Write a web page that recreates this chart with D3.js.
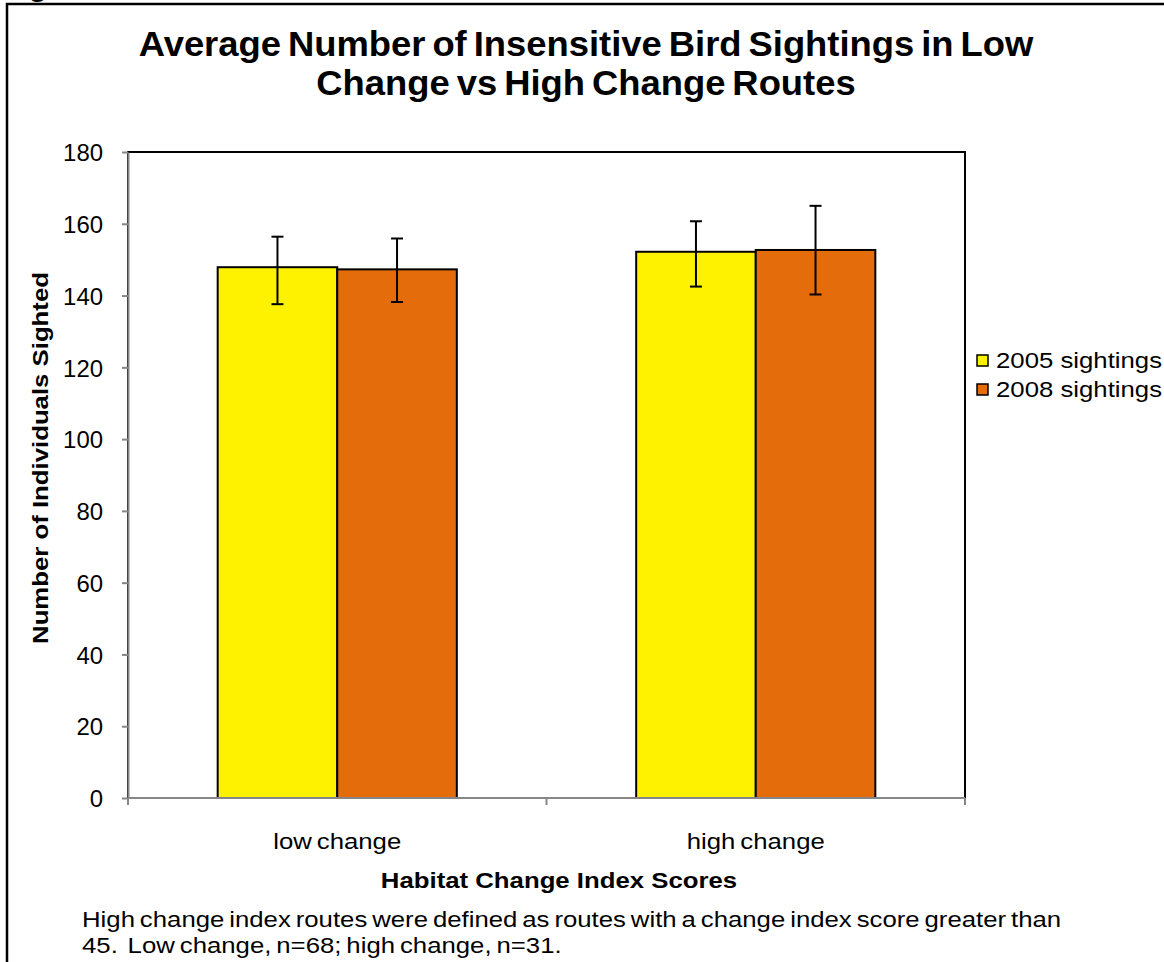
<!DOCTYPE html>
<html>
<head>
<meta charset="utf-8">
<script src="https://cdn.jsdelivr.net/npm/d3@7"></script>
<style>
  html, body { margin: 0; padding: 0; background: #fff; }
  svg { display: block; font-family: "Liberation Sans", Arial, sans-serif; }
</style>
</head>
<body>
<svg id="chart" width="1164" height="962"></svg>
<script>
// Category groups on the x axis
const categories = ["low change", "high change"];
// Series names and bar fill colours
const seriesNames = ["2005 sightings", "2008 sightings"];
const seriesColors = ["#FFF200", "#E46C0A"];
// Mean sightings per category, one array per series
const values2005 = [147.9, 152.2];
const values2008 = [147.3, 152.7];
// Error bar ends (low, high) per category, one array per series
const errLow2005 = [137.6, 142.5];
const errHigh2005 = [156.4, 160.7];
const errLow2008 = [138.2, 140.3];
const errHigh2008 = [155.9, 165.0];
// Y axis ticks
const yTicks = [0, 20, 40, 60, 80, 100, 120, 140, 160, 180];

const titleLines = ["Average Number of Insensitive Bird Sightings in Low", "Change vs High Change Routes"];
const yTitle = "Number of Individuals Sighted";
const xTitle = "Habitat Change Index Scores";
const noteLines = [
  "High change index routes were defined as routes with a change index score greater than",
  "45.  Low change, n=68; high change, n=31."
];

const series = [
  { name: seriesNames[0], color: seriesColors[0], values: values2005, lo: errLow2005, hi: errHigh2005 },
  { name: seriesNames[1], color: seriesColors[1], values: values2008, lo: errLow2008, hi: errHigh2008 }
];

// Text is set slightly wide, as in the original document's rendering
const BODY = 23, WIDE = 1.12;
function placeText(sel, x, y, s) {
  sel.attr("x", 0).attr("y", 0)
    .attr("transform", (d, i) => {
      const xx = typeof x === "function" ? x(d, i) : x;
      const yy = typeof y === "function" ? y(d, i) : y;
      return `translate(${xx},${yy}) scale(${s},1)`;
    });
  return sel;
}

const svg = d3.select("#chart");

// Outer frame of the figure
svg.append("rect")
  .attr("x", 7).attr("y", 4)
  .attr("width", 1200).attr("height", 1000)
  .attr("fill", "none").attr("stroke", "#000").attr("stroke-width", 2.5);

// Caption fragment above the frame
svg.append("text")
  .attr("x", 2).attr("y", -4)
  .attr("font-weight", "bold").attr("font-size", 30)
  .text("Fig");

// Plot area
const plot = { left: 128, top: 152, right: 965, bottom: 798 };

const x0 = d3.scaleBand()
  .domain(categories)
  .range([plot.left, plot.right])
  .paddingInner(0).paddingOuter(0);

// 150% gap width: the two bars take 2/(2+1.5) of each band
const groupW = x0.bandwidth() * 2 / 3.5;
const x1 = d3.scaleBand()
  .domain(seriesNames)
  .range([0, groupW])
  .padding(0);

const y = d3.scaleLinear().domain([0, 180]).range([plot.bottom, plot.top]);

// Plot border (top and right in black)
svg.append("rect")
  .attr("x", plot.left).attr("y", plot.top)
  .attr("width", plot.right - plot.left).attr("height", plot.bottom - plot.top)
  .attr("fill", "none").attr("stroke", "#000").attr("stroke-width", 2);

// Bars
const groups = svg.append("g").selectAll("g")
  .data(series)
  .join("g");

const barX = d => x0(d.c) + (x0.bandwidth() - groupW) / 2 + x1(d.s.name);

groups.selectAll("rect")
  .data(s => categories.map((c, i) => ({ c, v: s.values[i], s })))
  .join("rect")
  .attr("x", barX)
  .attr("y", d => y(d.v))
  .attr("width", x1.bandwidth())
  .attr("height", d => y(0) - y(d.v))
  .attr("fill", d => d.s.color)
  .attr("stroke", "#000").attr("stroke-width", 2);

// Error bars
const capW = 12;
groups.selectAll("g.err")
  .data(s => categories.map((c, i) => ({ c, lo: s.lo[i], hi: s.hi[i], s })))
  .join("g")
  .attr("class", "err")
  .each(function(d) {
    const cx = barX(d) + x1.bandwidth() / 2;
    const g = d3.select(this);
    g.append("line").attr("x1", cx).attr("x2", cx).attr("y1", y(d.hi)).attr("y2", y(d.lo));
    g.append("line").attr("x1", cx - capW / 2).attr("x2", cx + capW / 2).attr("y1", y(d.hi)).attr("y2", y(d.hi));
    g.append("line").attr("x1", cx - capW / 2).attr("x2", cx + capW / 2).attr("y1", y(d.lo)).attr("y2", y(d.lo));
    g.selectAll("line").attr("stroke", "#000").attr("stroke-width", 2);
  });

// Y axis
const yAxis = svg.append("g")
  .attr("transform", `translate(${plot.left},0)`)
  .call(d3.axisLeft(y).tickValues(yTicks).tickSize(6).tickSizeOuter(0));
yAxis.select(".domain").attr("stroke", "#868686").attr("stroke-width", 2);
yAxis.selectAll(".tick line").attr("stroke", "#868686").attr("stroke-width", 2);
yAxis.selectAll(".tick text")
  .attr("font-family", "Liberation Sans, Arial, sans-serif")
  .attr("font-size", BODY).attr("fill", "#000")
  .attr("dy", "0.38em")
  .call(sel => placeText(sel, -25, 0, 1.04));

// X axis with tick marks at band boundaries
const xAxisG = svg.append("g").attr("transform", `translate(0,${plot.bottom})`);
xAxisG.append("line")
  .attr("x1", plot.left).attr("x2", plot.right)
  .attr("stroke", "#868686").attr("stroke-width", 2);
const boundaries = [x0(categories[0]), ...categories.map(c => x0(c) + x0.bandwidth())];
xAxisG.selectAll("line.tk")
  .data(boundaries)
  .join("line").attr("class", "tk")
  .attr("x1", d => d).attr("x2", d => d)
  .attr("y1", 0).attr("y2", 7)
  .attr("stroke", "#868686").attr("stroke-width", 2);
xAxisG.selectAll("text")
  .data(categories)
  .join("text")
  .attr("text-anchor", "middle")
  .attr("font-size", BODY)
  .attr("word-spacing", -2)
  .text(d => d)
  .call(sel => placeText(sel, d => x0(d) + x0.bandwidth() / 2, 51, WIDE));

// Title
svg.append("g").selectAll("text")
  .data(titleLines)
  .join("text")
  .attr("text-anchor", "middle")
  .attr("font-weight", "bold").attr("font-size", 35)
  .attr("word-spacing", -3)
  .text(d => d)
  .call(sel => placeText(sel, 586, (d, i) => 56 + i * 39, 1.04));

// Axis titles
svg.append("text")
  .attr("text-anchor", "middle")
  .attr("font-weight", "bold").attr("font-size", BODY)
  .attr("transform", `translate(48,458) rotate(-90) scale(${WIDE},1)`)
  .text(yTitle);

svg.append("text")
  .attr("text-anchor", "middle")
  .attr("font-weight", "bold").attr("font-size", BODY)
  .text(xTitle)
  .call(sel => placeText(sel, 559, 888, WIDE));

// Note below the chart
svg.append("g").selectAll("text")
  .data(noteLines)
  .join("text")
  .attr("font-size", BODY)
  .attr("word-spacing", -2)
  .attr("xml:space", "preserve")
  .style("white-space", "pre")
  .text(d => d)
  .call(sel => placeText(sel, 82, (d, i) => 927 + i * 26, WIDE));

// Legend
const legend = svg.append("g").selectAll("g")
  .data(series)
  .join("g")
  .attr("transform", (d, i) => `translate(977,${368 + i * 29})`);
legend.append("rect")
  .attr("x", 0).attr("y", -13).attr("width", 11).attr("height", 11)
  .attr("fill", d => d.color).attr("stroke", "#000").attr("stroke-width", 1.5);
legend.append("text")
  .attr("font-size", BODY)
  .text(d => d.name)
  .call(sel => placeText(sel, 19, 0, WIDE));
</script>
</body>
</html>
